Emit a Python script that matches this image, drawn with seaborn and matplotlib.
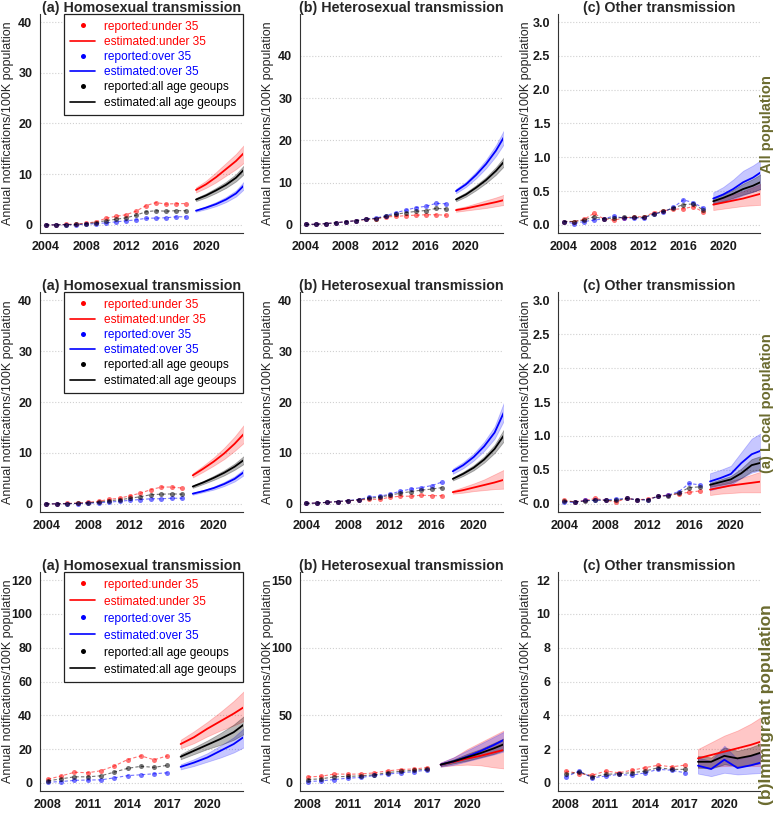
import matplotlib
matplotlib.use("Agg")
import matplotlib.pyplot as plt
from matplotlib.lines import Line2D
from matplotlib.ticker import FixedLocator
import seaborn as sns

# ---- years ----
yrs_rep_all = [2004, 2005, 2006, 2007, 2008, 2009, 2010, 2011, 2012, 2013, 2014, 2015, 2016, 2017, 2018]
yrs_est_all = [2019, 2020, 2021, 2022, 2023, 2024]
yrs_rep_loc = [2004, 2005, 2006, 2007, 2008, 2009, 2010, 2011, 2012, 2013, 2014, 2015, 2016, 2017]
yrs_est_loc = [2018, 2019, 2020, 2021, 2022, 2023]
yrs_rep_imm = [2008, 2009, 2010, 2011, 2012, 2013, 2014, 2015, 2016, 2017]
yrs_est_imm = [2018, 2019, 2020, 2021, 2022, 2023]

# ---- all population: homosexual ----
all_homo_under_rep = [0, 0, 0.1, 0.15, 0.35, 0.6, 1.3, 1.7, 2.0, 2.7, 3.8, 4.4, 4.1, 4.2, 4.2]
all_homo_over_rep = [0, 0, 0.02, 0.03, 0.12, 0.25, 0.4, 0.6, 0.8, 1.0, 1.3, 1.35, 1.4, 1.6, 1.6]
all_homo_tot_rep = [0, 0, 0.05, 0.08, 0.25, 0.45, 0.85, 1.1, 1.4, 1.9, 2.6, 2.8, 2.7, 2.8, 2.8]
all_homo_under_est = [6.9, 8.0, 9.4, 11.0, 12.6, 14.6]
all_homo_under_lo = [6.4, 7.3, 8.4, 9.7, 11.0, 12.6]
all_homo_under_hi = [7.4, 8.7, 10.4, 12.2, 14.0, 16.2]
all_homo_over_est = [2.8, 3.4, 4.1, 5.0, 6.2, 8.2]
all_homo_over_lo = [2.6, 3.1, 3.7, 4.5, 5.6, 7.4]
all_homo_over_hi = [3.0, 3.7, 4.5, 5.5, 6.8, 9.0]
all_homo_tot_est = [5.0, 5.8, 6.8, 7.9, 9.3, 11.3]
all_homo_tot_lo = [4.7, 5.4, 6.3, 7.3, 8.6, 10.4]
all_homo_tot_hi = [5.3, 6.2, 7.3, 8.5, 10.0, 12.2]

# ---- all population: heterosexual ----
all_het_under_rep = [0.1, 0.15, 0.3, 0.5, 0.75, 1.0, 1.3, 1.4, 1.9, 2.0, 2.2, 2.3, 2.4, 2.4, 2.3]
all_het_over_rep = [0.1, 0.15, 0.3, 0.5, 0.75, 1.0, 1.4, 1.6, 2.2, 2.9, 3.5, 4.1, 4.4, 5.1, 5.0]
all_het_tot_rep = [0.1, 0.15, 0.3, 0.5, 0.75, 1.0, 1.35, 1.5, 2.0, 2.5, 2.9, 3.2, 3.4, 3.9, 3.8]
all_het_under_est = [3.5, 3.9, 4.4, 4.9, 5.4, 6.0]
all_het_under_lo = [3.1, 3.4, 3.7, 4.0, 4.4, 4.8]
all_het_under_hi = [3.9, 4.4, 5.1, 5.8, 6.5, 7.3]
all_het_over_est = [8.0, 9.6, 11.8, 14.4, 17.6, 21.6]
all_het_over_lo = [7.5, 9.0, 11.0, 13.4, 16.3, 19.9]
all_het_over_hi = [8.5, 10.2, 12.6, 15.4, 18.9, 23.3]
all_het_tot_est = [6.0, 7.2, 8.8, 10.6, 12.8, 15.5]
all_het_tot_lo = [5.6, 6.7, 8.2, 9.9, 11.9, 14.4]
all_het_tot_hi = [6.4, 7.7, 9.4, 11.3, 13.7, 16.6]

# ---- all population: other ----
all_oth_under_rep = [0.05, 0.05, 0.08, 0.17, 0.09, 0.07, 0.1, 0.12, 0.12, 0.18, 0.21, 0.23, 0.24, 0.27, 0.19]
all_oth_over_rep = [0.05, 0.02, 0.05, 0.07, 0.09, 0.13, 0.1, 0.1, 0.1, 0.16, 0.19, 0.26, 0.37, 0.33, 0.25]
all_oth_tot_rep = [0.05, 0.05, 0.07, 0.12, 0.09, 0.1, 0.11, 0.11, 0.11, 0.16, 0.2, 0.25, 0.3, 0.31, 0.22]
all_oth_under_est = [0.30, 0.33, 0.36, 0.39, 0.43, 0.47]
all_oth_under_lo = [0.22, 0.24, 0.26, 0.28, 0.29, 0.30]
all_oth_under_hi = [0.36, 0.40, 0.45, 0.50, 0.56, 0.62]
all_oth_over_est = [0.39, 0.45, 0.53, 0.63, 0.70, 0.80]
all_oth_over_lo = [0.30, 0.34, 0.38, 0.44, 0.49, 0.55]
all_oth_over_hi = [0.48, 0.56, 0.67, 0.80, 0.88, 0.98]
all_oth_tot_est = [0.35, 0.40, 0.46, 0.53, 0.58, 0.65]
all_oth_tot_lo = [0.31, 0.35, 0.40, 0.45, 0.49, 0.54]
all_oth_tot_hi = [0.39, 0.45, 0.52, 0.61, 0.68, 0.77]

# ---- local population: homosexual ----
loc_homo_under_rep = [0, 0, 0.08, 0.15, 0.3, 0.5, 0.9, 1.1, 1.6, 2.1, 2.8, 3.3, 3.3, 3.1]
loc_homo_over_rep = [0, 0, 0.02, 0.05, 0.12, 0.2, 0.35, 0.5, 0.7, 0.85, 1.0, 1.0, 1.1, 1.1]
loc_homo_tot_rep = [0, 0, 0.05, 0.1, 0.2, 0.35, 0.6, 0.8, 1.1, 1.4, 1.8, 1.9, 1.95, 1.9]
loc_homo_under_est = [5.6, 6.9, 8.3, 9.9, 11.8, 14.0]
loc_homo_under_lo = [5.2, 6.3, 7.5, 8.8, 10.4, 12.2]
loc_homo_under_hi = [6.0, 7.5, 9.1, 11.0, 13.2, 15.8]
loc_homo_over_est = [2.0, 2.5, 3.1, 3.9, 4.9, 6.4]
loc_homo_over_lo = [1.8, 2.3, 2.8, 3.5, 4.4, 5.8]
loc_homo_over_hi = [2.2, 2.7, 3.4, 4.3, 5.4, 7.0]
loc_homo_tot_est = [3.4, 4.2, 5.1, 6.1, 7.3, 8.8]
loc_homo_tot_lo = [3.15, 3.9, 4.7, 5.6, 6.7, 8.0]
loc_homo_tot_hi = [3.65, 4.5, 5.5, 6.6, 7.9, 9.6]

# ---- local population: heterosexual ----
loc_het_under_rep = [0.1, 0.15, 0.3, 0.45, 0.6, 0.75, 0.9, 0.9, 1.3, 1.5, 1.5, 1.7, 1.6, 1.6]
loc_het_over_rep = [0.1, 0.15, 0.3, 0.45, 0.65, 0.85, 1.3, 1.5, 1.9, 2.5, 2.9, 3.2, 3.6, 4.3]
loc_het_tot_rep = [0.1, 0.15, 0.3, 0.45, 0.6, 0.8, 1.1, 1.3, 1.7, 2.1, 2.4, 2.7, 2.9, 3.2]
loc_het_under_est = [2.3, 2.7, 3.2, 3.7, 4.2, 4.8]
loc_het_under_lo = [2.0, 2.2, 2.5, 2.7, 2.9, 3.0]
loc_het_under_hi = [2.6, 3.3, 4.0, 4.8, 5.8, 6.8]
loc_het_over_est = [6.4, 7.6, 9.2, 11.3, 14.0, 18.5]
loc_het_over_lo = [5.9, 7.0, 8.5, 10.4, 12.8, 16.8]
loc_het_over_hi = [6.9, 8.2, 9.9, 12.2, 15.2, 20.5]
loc_het_tot_est = [4.9, 5.9, 7.1, 8.7, 10.8, 13.8]
loc_het_tot_lo = [4.6, 5.5, 6.6, 8.1, 10.0, 12.6]
loc_het_tot_hi = [5.2, 6.3, 7.6, 9.3, 11.6, 15.0]

# ---- local population: other ----
loc_oth_under_rep = [0.05, 0.03, 0.05, 0.08, 0.05, 0.03, 0.08, 0.06, 0.07, 0.11, 0.13, 0.15, 0.17, 0.19]
loc_oth_over_rep = [0.03, 0.02, 0.05, 0.05, 0.06, 0.07, 0.08, 0.06, 0.06, 0.11, 0.13, 0.18, 0.3, 0.28]
loc_oth_tot_rep = [0.04, 0.03, 0.04, 0.06, 0.05, 0.05, 0.08, 0.06, 0.06, 0.11, 0.12, 0.16, 0.24, 0.25]
loc_oth_under_est = [0.21, 0.24, 0.27, 0.29, 0.31, 0.33]
loc_oth_under_lo = [0.13, 0.15, 0.16, 0.17, 0.17, 0.17]
loc_oth_under_hi = [0.27, 0.30, 0.34, 0.38, 0.43, 0.48]
loc_oth_over_est = [0.33, 0.38, 0.44, 0.60, 0.73, 0.79]
loc_oth_over_lo = [0.20, 0.24, 0.28, 0.38, 0.46, 0.50]
loc_oth_over_hi = [0.45, 0.50, 0.56, 0.76, 0.96, 1.05]
loc_oth_tot_est = [0.28, 0.32, 0.36, 0.45, 0.57, 0.61]
loc_oth_tot_lo = [0.25, 0.28, 0.31, 0.38, 0.48, 0.51]
loc_oth_tot_hi = [0.31, 0.36, 0.41, 0.52, 0.66, 0.71]

# ---- immigrant population: homosexual ----
imm_homo_under_rep = [2.2, 4.1, 6.3, 6.0, 7.2, 10.0, 13.8, 16.0, 13.7, 16.0]
imm_homo_over_rep = [0.4, 0.8, 1.5, 1.7, 1.8, 3.0, 4.3, 4.8, 5.4, 6.0]
imm_homo_tot_rep = [1.2, 2.4, 3.6, 3.6, 4.2, 6.4, 8.6, 9.8, 9.2, 10.4]
imm_homo_under_est = [23, 27, 32, 36.5, 41, 46]
imm_homo_under_lo = [20.5, 23.5, 27.5, 31, 34, 37.5]
imm_homo_under_hi = [25.5, 30.5, 36, 42, 48.5, 56]
imm_homo_over_est = [9.5, 12, 15, 19, 23, 28.5]
imm_homo_over_lo = [8, 10, 12.5, 15, 18, 22]
imm_homo_over_hi = [11, 14, 17.5, 22, 27, 34]
imm_homo_tot_est = [15.5, 19, 22.5, 26, 30, 36]
imm_homo_tot_lo = [14, 17, 20, 22.5, 25.5, 30]
imm_homo_tot_hi = [17, 21, 25, 29.5, 34.5, 41]

# ---- immigrant population: heterosexual ----
imm_het_under_rep = [4.4, 4.9, 6.6, 6.4, 6.6, 7.4, 8.9, 9.9, 10.3, 11.3]
imm_het_over_rep = [1.0, 1.5, 2.5, 3.5, 4.0, 5.5, 6.5, 7.5, 8.3, 9.5]
imm_het_tot_rep = [2.5, 3.0, 4.5, 4.8, 5.2, 6.0, 7.6, 8.6, 9.3, 10.3]
imm_het_under_est = [13.5, 15.5, 18, 20, 22.5, 25]
imm_het_under_lo = [12, 13, 13.5, 13, 11.5, 10.5]
imm_het_under_hi = [15, 19, 25, 30, 35, 40]
imm_het_over_est = [13.5, 16, 19.5, 23.5, 28, 33]
imm_het_over_lo = [12, 13.5, 16, 18.5, 21, 24]
imm_het_over_hi = [15, 19, 24, 29, 34, 39]
imm_het_tot_est = [13.5, 16, 19, 22, 25.5, 29.5]
imm_het_tot_lo = [12.5, 14.5, 16.5, 19, 21.5, 25]
imm_het_tot_hi = [14.5, 17.5, 21.5, 25, 29.5, 34]

# ---- immigrant population: other ----
imm_oth_under_rep = [0.7, 0.55, 0.45, 0.7, 0.6, 0.75, 0.9, 1.05, 0.95, 1.05]
imm_oth_over_rep = [0.35, 0.7, 0.3, 0.4, 0.5, 0.45, 0.6, 0.8, 0.75, 0.6]
imm_oth_tot_rep = [0.5, 0.65, 0.35, 0.5, 0.55, 0.6, 0.7, 0.9, 0.8, 0.8]
imm_oth_under_est = [1.45, 1.65, 1.85, 2.05, 2.25, 2.5]
imm_oth_under_lo = [0.9, 0.95, 1.0, 1.0, 1.0, 1.0]
imm_oth_under_hi = [2.0, 2.4, 2.8, 3.1, 3.5, 4.0]
imm_oth_over_est = [1.02, 0.82, 1.37, 0.88, 1.04, 1.25]
imm_oth_over_lo = [0.55, 0.4, 0.6, 0.5, 0.55, 0.6]
imm_oth_over_hi = [1.5, 1.3, 2.2, 1.4, 1.6, 1.8]
imm_oth_tot_est = [1.25, 1.25, 1.6, 1.45, 1.6, 1.85]
imm_oth_tot_lo = [0.9, 0.85, 1.1, 1.0, 1.05, 1.2]
imm_oth_tot_hi = [1.6, 1.5, 2.1, 1.9, 2.1, 2.4]

titles = ["(a) Homosexual transmission", "(b) Heterosexual transmission", "(c) Other transmission"]
row_labels = ["All population", "(a) Local population", "(b)Immigrant population"]
legend_labels = ["reported:under 35", "estimated:under 35", "reported:over 35",
                 "estimated:over 35", "reported:all age geoups", "estimated:all age geoups"]

RED, BLUE, BLACK = "#FF0000", "#0000FF", "#000000"
OLIVE = "#6B6B2F"
GRID = "#D0D0D0"

sns.set_style("white")
plt.rcParams["font.family"] = ["Liberation Sans", "DejaVu Sans"]

W, H = 778, 813
fig = plt.figure(figsize=(W / 100, H / 100), dpi=100)

col_px = [(40, 243), (300, 503), (558, 760)]
row_px = [(14, 233), (292, 512), (572, 791)]


def make_ax(r, c):
    x0, x1 = col_px[c]
    y0, y1 = row_px[r]
    return fig.add_axes([x0 / W, 1 - y1 / H, (x1 - x0) / W, (y1 - y0) / H])


def draw_panel(ax, yrs_rep, yrs_est, series, xlim, ylim, yticks, ylabels,
               xticks, xlabel_years, gridx, title, legend=False, legend_sp=0.12):
    colors = [RED, BLUE, BLACK]
    band_alpha = [0.22, 0.22, 0.28]
    # ribbons
    for (rep, est, lo, hi), col, a in zip(series, colors, band_alpha):
        ax.fill_between(yrs_est, lo, hi, color=col, alpha=a, lw=0.6)
    # reported points (dashed)
    for (rep, est, lo, hi), col in zip(series, colors):
        sns.lineplot(x=yrs_rep, y=rep, ax=ax, color=col, alpha=0.55, lw=0.8,
                     linestyle=(0, (3, 2)), marker="o", markersize=3.6,
                     markeredgewidth=0, errorbar=None)
    # estimated lines
    for (rep, est, lo, hi), col in zip(series, colors):
        sns.lineplot(x=yrs_est, y=est, ax=ax, color=col, lw=1.3, errorbar=None)

    ax.set_xlim(*xlim)
    ax.set_ylim(*ylim)
    ax.set_xticks(xticks)
    ax.set_xticklabels([str(y) if y in xlabel_years else "" for y in xticks],
                       fontweight="bold", fontsize=9)
    ax.set_yticks(yticks)
    ax.set_yticklabels(ylabels, fontweight="bold", fontsize=9)
    ax.xaxis.set_minor_locator(FixedLocator(gridx))
    ax.tick_params(axis="x", which="minor", length=0)
    ax.tick_params(axis="both", which="major", direction="out", length=3.5,
                   width=0.8, color="#333333", pad=2, labelcolor="#1a1a1a")
    ax.grid(False)
    ax.xaxis.grid(True, which="minor", ls=":", color=GRID, lw=0.8)
    ax.yaxis.grid(True, which="major", ls=":", color=GRID, lw=0.8)
    ax.set_axisbelow(True)
    for s in ["top", "right"]:
        ax.spines[s].set_visible(False)
    for s in ["left", "bottom"]:
        ax.spines[s].set_color("#333333")
        ax.spines[s].set_linewidth(0.8)
    ax.set_xlabel("")
    ax.set_ylabel("Annual notifications/100K population", fontsize=9)
    ax.yaxis.set_label_coords(-0.13, 0.5)
    ax.set_title(title, fontsize=10.3, fontweight="bold", pad=1.2)

    if legend:
        handles = []
        for col in colors:
            handles.append(Line2D([0], [0], color=col, marker="o", ls="none", ms=3.6, mew=0))
            handles.append(Line2D([0], [0], color=col, lw=1.2))
        leg = ax.legend(handles, legend_labels, loc="upper right", bbox_to_anchor=(1, 1),
                        borderaxespad=0, fontsize=8.6, frameon=True, fancybox=False,
                        edgecolor="#222222", framealpha=1, handlelength=2.1,
                        handletextpad=0.75, labelspacing=legend_sp, borderpad=0.55)
        leg.get_frame().set_linewidth(0.9)
        for txt, col in zip(leg.get_texts(), [RED, RED, BLUE, BLUE, BLACK, BLACK]):
            txt.set_color(col)


years_ax_long = list(range(2004, 2024))
years_ax_loc = list(range(2004, 2023))
years_ax_imm = list(range(2008, 2023))

panels = [
    # row 0: all population
    (0, 0, yrs_rep_all, yrs_est_all,
     [(all_homo_under_rep, all_homo_under_est, all_homo_under_lo, all_homo_under_hi),
      (all_homo_over_rep, all_homo_over_est, all_homo_over_lo, all_homo_over_hi),
      (all_homo_tot_rep, all_homo_tot_est, all_homo_tot_lo, all_homo_tot_hi)],
     (2003.4, 2023.7), (-1.6, 41.6), [0, 10, 20, 30, 40], ["0", "10", "20", "30", "40"]),
    (0, 1, yrs_rep_all, yrs_est_all,
     [(all_het_under_rep, all_het_under_est, all_het_under_lo, all_het_under_hi),
      (all_het_over_rep, all_het_over_est, all_het_over_lo, all_het_over_hi),
      (all_het_tot_rep, all_het_tot_est, all_het_tot_lo, all_het_tot_hi)],
     (2003.4, 2023.7), (-1.92, 49.92), [0, 10, 20, 30, 40], ["0", "10", "20", "30", "40"]),
    (0, 2, yrs_rep_all, yrs_est_all,
     [(all_oth_under_rep, all_oth_under_est, all_oth_under_lo, all_oth_under_hi),
      (all_oth_over_rep, all_oth_over_est, all_oth_over_lo, all_oth_over_hi),
      (all_oth_tot_rep, all_oth_tot_est, all_oth_tot_lo, all_oth_tot_hi)],
     (2003.4, 2023.7), (-0.12, 3.12), [0, 0.5, 1.0, 1.5, 2.0, 2.5, 3.0],
     ["0.0", "0.5", "1.0", "1.5", "2.0", "2.5", "3.0"]),
    # row 1: local population
    (1, 0, yrs_rep_loc, yrs_est_loc,
     [(loc_homo_under_rep, loc_homo_under_est, loc_homo_under_lo, loc_homo_under_hi),
      (loc_homo_over_rep, loc_homo_over_est, loc_homo_over_lo, loc_homo_over_hi),
      (loc_homo_tot_rep, loc_homo_tot_est, loc_homo_tot_lo, loc_homo_tot_hi)],
     (2003.4, 2022.8), (-1.6, 41.6), [0, 10, 20, 30, 40], ["0", "10", "20", "30", "40"]),
    (1, 1, yrs_rep_loc, yrs_est_loc,
     [(loc_het_under_rep, loc_het_under_est, loc_het_under_lo, loc_het_under_hi),
      (loc_het_over_rep, loc_het_over_est, loc_het_over_lo, loc_het_over_hi),
      (loc_het_tot_rep, loc_het_tot_est, loc_het_tot_lo, loc_het_tot_hi)],
     (2003.4, 2022.8), (-1.6, 41.6), [0, 10, 20, 30, 40], ["0", "10", "20", "30", "40"]),
    (1, 2, yrs_rep_loc, yrs_est_loc,
     [(loc_oth_under_rep, loc_oth_under_est, loc_oth_under_lo, loc_oth_under_hi),
      (loc_oth_over_rep, loc_oth_over_est, loc_oth_over_lo, loc_oth_over_hi),
      (loc_oth_tot_rep, loc_oth_tot_est, loc_oth_tot_lo, loc_oth_tot_hi)],
     (2003.4, 2022.8), (-0.12, 3.12), [0, 0.5, 1.0, 1.5, 2.0, 2.5, 3.0],
     ["0.0", "0.5", "1.0", "1.5", "2.0", "2.5", "3.0"]),
    # row 2: immigrant population
    (2, 0, yrs_rep_imm, yrs_est_imm,
     [(imm_homo_under_rep, imm_homo_under_est, imm_homo_under_lo, imm_homo_under_hi),
      (imm_homo_over_rep, imm_homo_over_est, imm_homo_over_lo, imm_homo_over_hi),
      (imm_homo_tot_rep, imm_homo_tot_est, imm_homo_tot_lo, imm_homo_tot_hi)],
     (2007.4, 2022.7), (-4.8, 124.8), [0, 20, 40, 60, 80, 100, 120],
     ["0", "20", "40", "60", "80", "100", "120"]),
    (2, 1, yrs_rep_imm, yrs_est_imm,
     [(imm_het_under_rep, imm_het_under_est, imm_het_under_lo, imm_het_under_hi),
      (imm_het_over_rep, imm_het_over_est, imm_het_over_lo, imm_het_over_hi),
      (imm_het_tot_rep, imm_het_tot_est, imm_het_tot_lo, imm_het_tot_hi)],
     (2007.4, 2022.7), (-6, 156), [0, 50, 100, 150], ["0", "50", "100", "150"]),
    (2, 2, yrs_rep_imm, yrs_est_imm,
     [(imm_oth_under_rep, imm_oth_under_est, imm_oth_under_lo, imm_oth_under_hi),
      (imm_oth_over_rep, imm_oth_over_est, imm_oth_over_lo, imm_oth_over_hi),
      (imm_oth_tot_rep, imm_oth_tot_est, imm_oth_tot_lo, imm_oth_tot_hi)],
     (2007.4, 2022.7), (-0.48, 12.48), [0, 2, 4, 6, 8, 10, 12],
     ["0", "2", "4", "6", "8", "10", "12"]),
]

for r, c, yrs_rep, yrs_est, series, xlim, ylim, yticks, ylabels in panels:
    ax = make_ax(r, c)
    if r == 0:
        xticks, xlab, gridx = years_ax_long, [2004, 2008, 2012, 2016, 2020], [2005, 2010, 2015, 2020]
    elif r == 1:
        xticks, xlab, gridx = years_ax_loc, [2004, 2008, 2012, 2016, 2020], [2005, 2010, 2015, 2020]
    else:
        xticks, xlab, gridx = years_ax_imm, [2008, 2011, 2014, 2017, 2020], list(range(2008, 2023, 2))
    draw_panel(ax, yrs_rep, yrs_est, series, xlim, ylim, yticks, ylabels,
               xticks, xlab, gridx, titles[c], legend=(c == 0),
               legend_sp=0.42 if r == 2 else 0.27)

# row labels on the right
fig.text(767 / W, 1 - 124 / H, row_labels[0], rotation=90, ha="center", va="center",
         fontsize=10.6, fontweight="bold", color=OLIVE)
fig.text(767 / W, 1 - 403 / H, row_labels[1], rotation=90, ha="center", va="center",
         fontsize=10.6, fontweight="bold", color=OLIVE)
fig.text(767 / W, 1 - 705 / H, row_labels[2], rotation=90, ha="center", va="center",
         fontsize=12.5, fontweight="bold", color=OLIVE)

fig.savefig("out.png", dpi=100)
